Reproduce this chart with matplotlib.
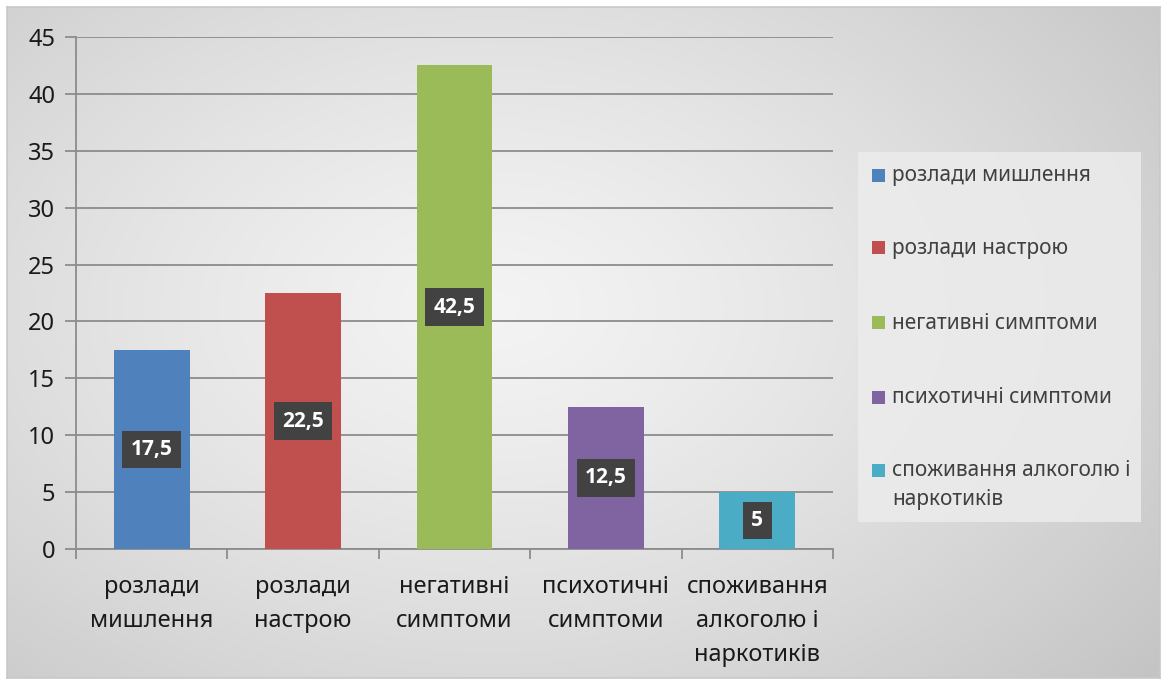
import numpy as np
import matplotlib
matplotlib.use("Agg")
import matplotlib.pyplot as plt
from matplotlib.patches import Rectangle

plt.rcParams['font.family'] = ['Noto Sans', 'DejaVu Sans']

categories = ["розлади\nмишлення", "розлади\nнастрою", "негативні\nсимптоми",
              "психотичні\nсимптоми", "споживання\nалкоголю і\nнаркотиків"]
legend_labels = ["розлади мишлення", "розлади настрою", "негативні симптоми",
                 "психотичні симптоми", "споживання алкоголю і\nнаркотиків"]
values = [17.5, 22.5, 42.5, 12.5, 5]
value_labels = ["17,5", "22,5", "42,5", "12,5", "5"]
colors = ["#4F81BD", "#C0504D", "#9BBB59", "#8064A2", "#4BACC6"]
yticks = [0, 5, 10, 15, 20, 25, 30, 35, 40, 45]

W, H = 1166, 684
fig = plt.figure(figsize=(W/100, H/100), dpi=100)
fig.patch.set_facecolor('white')

# background gradient panel
bx0, by0, bx1, by1 = 7, 7, 1160, 678
bg = fig.add_axes([bx0/W, 1-by1/H, (bx1-bx0)/W, (by1-by0)/H], zorder=0)
yy, xx = np.mgrid[0:1:300j, 0:1:500j]
r = np.sqrt(((xx-0.42)/0.75)**2 + ((yy-0.45)/0.85)**2)
r = np.clip(r, 0, 1)
c0, c1 = 0.955, 0.77
img = c0 + (c1-c0)*r**1.3
bg.imshow(np.dstack([img, img, img]), aspect='auto', extent=[0, 1, 0, 1], origin='upper')
bg.set_xticks([]); bg.set_yticks([])
for s in bg.spines.values():
    s.set_color('#c8c8c8'); s.set_linewidth(1.2)

# main axes
ax0, ay0, ax1, ay1 = 76, 37, 833, 549
ax = fig.add_axes([ax0/W, 1-ay1/H, (ax1-ax0)/W, (ay1-ay0)/H], zorder=1)
ax.patch.set_alpha(0)
x = np.arange(len(values))
bars = ax.bar(x, values, width=0.5, color=colors, zorder=3)
ax.set_xlim(-0.5, len(values)-0.5)
ax.set_ylim(0, 45)
ax.set_yticks(yticks)
ax.set_yticklabels([str(t) for t in yticks], fontsize=17, color='#1a1a1a')
ax.yaxis.grid(True, color='#8c8c8c', linewidth=1.3, zorder=0)
ax.set_axisbelow(True)
ax.tick_params(axis='y', length=8, width=1.3, color='#8c8c8c', pad=7)
ax.set_xticks(x)
ax.set_xticklabels(categories, fontsize=17, color='#1a1a1a', linespacing=1.55)
ax.set_xticks(np.arange(-0.5, len(values)), minor=True)
ax.tick_params(axis='x', which='major', length=0, pad=19)
ax.tick_params(axis='x', which='minor', length=7, width=1.3, color='#8c8c8c')
for side in ['top', 'right']:
    ax.spines[side].set_visible(False)
ax.spines['left'].set_color('#8c8c8c'); ax.spines['left'].set_linewidth(1.3)
ax.spines['bottom'].set_color('#8c8c8c'); ax.spines['bottom'].set_linewidth(1.3)

for xi, v, lab in zip(x, values, value_labels):
    ax.text(xi, v/2, lab, ha='center', va='center', fontsize=15, fontweight='bold',
            family=['Open Sans', 'DejaVu Sans'],
            color='white', zorder=5,
            bbox=dict(boxstyle='square,pad=0.4', facecolor='#424242', edgecolor='none'))

# legend panel
lx0, ly0, lx1, ly1 = 858, 152, 1141, 522
fig.add_artist(Rectangle((lx0/W, 1-ly1/H), (lx1-lx0)/W, (ly1-ly0)/H,
                         transform=fig.transFigure, facecolor='#ececec',
                         edgecolor='none', alpha=0.85, zorder=2))
ys = [175, 248, 323, 397, 470]
for yc, lab, col in zip(ys, legend_labels, colors):
    fig.add_artist(Rectangle((872/W, 1-(yc+6.5)/H), 13/W, 13/H,
                             transform=fig.transFigure, facecolor=col,
                             edgecolor='none', zorder=3))
    fig.text(892/W, 1-(yc-10)/H, lab, fontsize=15, color='#404040',
             ha='left', va='top', linespacing=1.5, zorder=3)

fig.savefig('out.png', dpi=100)
